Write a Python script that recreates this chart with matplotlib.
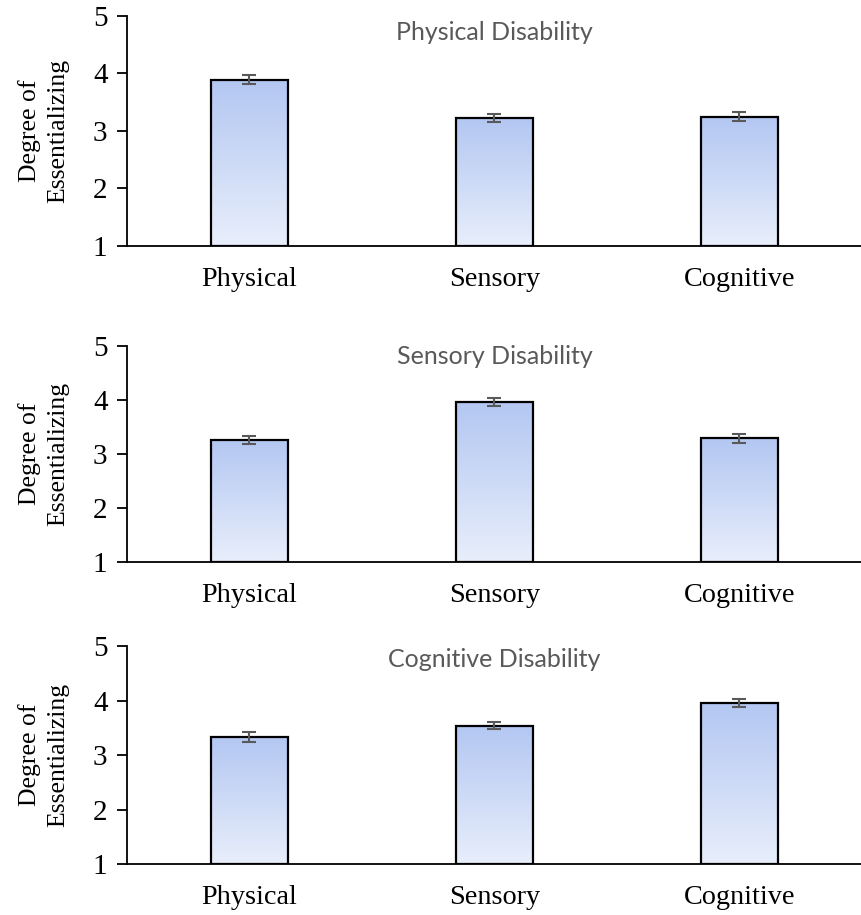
import matplotlib
matplotlib.use("Agg")
import matplotlib.pyplot as plt
import numpy as np
from matplotlib.colors import LinearSegmentedColormap

categories = ["Physical", "Sensory", "Cognitive"]
titles = ["Physical Disability", "Sensory Disability", "Cognitive Disability"]
means_physical = [3.89, 3.22, 3.24]
errs_physical = [0.07, 0.07, 0.08]
means_sensory = [3.26, 3.96, 3.29]
errs_sensory = [0.08, 0.07, 0.08]
means_cognitive = [3.34, 3.54, 3.96]
errs_cognitive = [0.09, 0.07, 0.07]
y_ticks = [1, 2, 3, 4, 5]
y_label = "Degree of\nEssentializing"

W, H = 862, 915
fig = plt.figure(figsize=(W / 100, H / 100), dpi=100)

# axes boxes in pixels: (left, top, right, bottom)
boxes = [(127, 15.7, 862, 245.7), (127, 346, 862, 562.3), (127, 646, 862, 864.3)]
title_y = [0.925, 0.95, 0.94]

cmap = LinearSegmentedColormap.from_list("g", ["#e8eefb", "#b3c7f2"])
serif = ["Liberation Serif", "DejaVu Serif"]

data = [(means_physical, errs_physical), (means_sensory, errs_sensory), (means_cognitive, errs_cognitive)]

for i, ((means, errs), box) in enumerate(zip(data, boxes)):
    l, t, r, b = box
    ax = fig.add_axes([l / W, 1 - b / H, (r - l) / W, (b - t) / H])
    x = np.arange(len(categories))
    bars = ax.bar(x, [m - 1 for m in means], bottom=1, width=0.315,
                  facecolor="none", edgecolor="black", linewidth=1.6, zorder=3)
    grad = np.linspace(0, 1, 256).reshape(-1, 1)
    for bar in bars:
        x0, y0 = bar.get_x(), bar.get_y()
        w, h = bar.get_width(), bar.get_height()
        im = ax.imshow(grad, extent=[x0, x0 + w, y0, y0 + h], origin="lower",
                       cmap=cmap, aspect="auto", zorder=2)
        im.set_clip_path(bar)
    ax.errorbar(x, means, yerr=errs, fmt="none", ecolor="#595959",
                elinewidth=1.5, capsize=5, capthick=1.5, zorder=4)
    ax.set_xlim(-0.5, 2.5)
    ax.set_ylim(1, 5)
    ax.set_yticks(y_ticks)
    ax.set_yticklabels([str(v) for v in y_ticks], fontfamily=serif, fontsize=21)
    ax.set_xticks(x)
    ax.set_xticklabels(categories, fontfamily=serif, fontsize=20.3)
    ax.tick_params(axis="x", length=0, pad=15)
    ax.tick_params(axis="y", length=7, width=1.3, pad=7, direction="out")
    for s in ["top", "right"]:
        ax.spines[s].set_visible(False)
    ax.spines["left"].set_linewidth(1.3)
    ax.spines["bottom"].set_linewidth(1.3)
    ax.set_ylabel(y_label, fontfamily=serif, fontsize=18.5, linespacing=1.4, labelpad=17)
    ax.text(0.5, title_y[i], titles[i], transform=ax.transAxes, ha="center", va="center",
            fontfamily=["Lato", "DejaVu Sans"], fontsize=18, color="#595959")

fig.savefig("out.png", dpi=100)
